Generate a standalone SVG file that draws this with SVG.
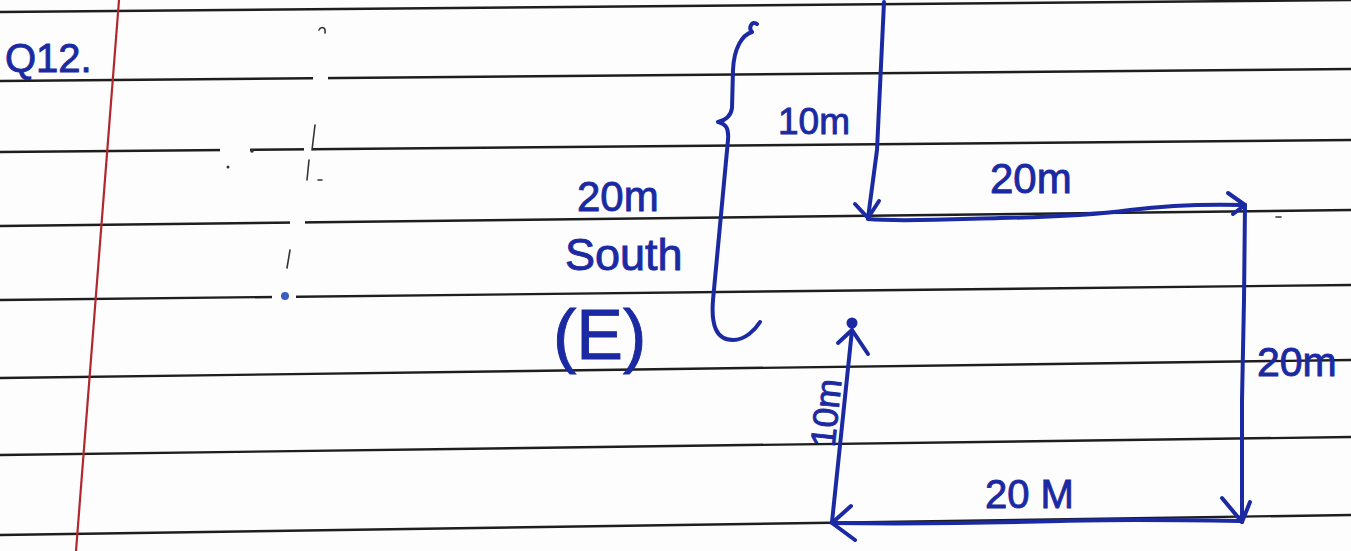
<svg xmlns="http://www.w3.org/2000/svg" width="1351" height="551" viewBox="0 0 1351 551">
<defs>
<style>
.rule{stroke:#1e1e1e;stroke-width:2.4;fill:none}
.margin{stroke:#b0282e;stroke-width:2.2;fill:none}
.ink{stroke:#1b2aa2;stroke-width:4;fill:none;stroke-linecap:round;stroke-linejoin:round}
.pencil{stroke:#333;stroke-width:1.6;fill:none;stroke-linecap:round}
.lbl{font-family:"Liberation Sans",Arial,sans-serif;fill:#1b2aa2;stroke:#1b2aa2;stroke-width:0.9}
</style>
</defs>
<rect width="1351" height="551" fill="#fdfdfd"/>
<g id="paper">
<path class="rule" d="M0,12 L1351,0"/>
<path class="rule" d="M0,81 L1351,69"/>
<path class="rule" d="M0,152 L1351,140"/>
<path class="rule" d="M0,226 L1351,210"/>
<path class="rule" d="M0,300 L1351,285"/>
<path class="rule" d="M0,378 L1351,360"/>
<path class="rule" d="M0,455 L1351,437"/>
<path class="rule" d="M0,535 L1351,515"/>
<path class="margin" d="M119,0 L76,551"/>
<g fill="#fdfdfd">
<rect x="313" y="72" width="15" height="10"/>
<rect x="220" y="143" width="30" height="10"/>
<rect x="304" y="143" width="8" height="10"/>
<rect x="290" y="216" width="15" height="10"/>
<rect x="272" y="290" width="24" height="10"/>
</g>
<path class="pencil" d="M319,30 C321,26 326,27 325,33"/>
<path class="pencil" d="M315,125 L312,150"/>
<path class="pencil" d="M309,160 L307,180 M318,180 L322,180"/>
<path class="pencil" d="M290,250 L287,268"/>
<circle cx="252" cy="151" r="1.8" fill="#333"/>
<circle cx="228" cy="167" r="1.5" fill="#333"/>
<circle cx="285" cy="296" r="4" fill="#3a5bc0"/>
<path class="pencil" d="M1276,217 L1281,217"/>
</g>
<g id="title">
<text class="lbl" x="5" y="72" font-size="40">Q12.</text>
</g>
<g id="brace">
<path class="ink" d="M757,24 C752,20 748,28 752,32 C742,35 734,48 733,70 L732,108 C731,116 726,120 718,122 C726,124 729,128 728,140 L713,300 C711,325 716,340 733,340 C745,340 755,330 760,322"/>
</g>
<g id="labels">
<text class="lbl" x="778" y="134" font-size="37">10m</text>
<text class="lbl" x="577" y="211" font-size="42">20m</text>
<text class="lbl" x="565" y="270" font-size="45">South</text>
<text class="lbl" x="553" y="359" font-size="70">(E)</text>
<text class="lbl" x="990" y="193" font-size="42">20m</text>
<text class="lbl" x="1257" y="376" font-size="41">20m</text>
<text class="lbl" x="985" y="508" font-size="40">20 M</text>
<text class="lbl" font-size="35" text-anchor="middle" transform="translate(838,414) rotate(-84)">10m</text>
</g>
<g id="connectors">
<path class="ink" d="M884,2 L877,150 L868,218"/>
<path class="ink" d="M855,204 L868,218 L879,201"/>
<path class="ink" d="M868,219 C900,222 960,219 1000,218 C1060,217 1100,214 1130,210 C1170,205 1210,204 1245,205"/>
<path class="ink" d="M1228,193 L1245,205 L1233,214"/>
<path class="ink" d="M1245,205 L1244,300 L1242,400 L1242,522"/>
<path class="ink" d="M1222,498 L1242,522 L1250,502"/>
<path class="ink" d="M1242,521 C1180,520 1120,519 1060,521 C990,523 900,524 832,523"/>
<path class="ink" d="M851,506 L832,523 L855,540"/>
<path class="ink" d="M832,522 L852,330"/>
<path class="ink" d="M838,343 L852,330 L868,354"/>
<circle cx="852" cy="323" r="5.5" fill="#1b2aa2"/>
</g>
</svg>
